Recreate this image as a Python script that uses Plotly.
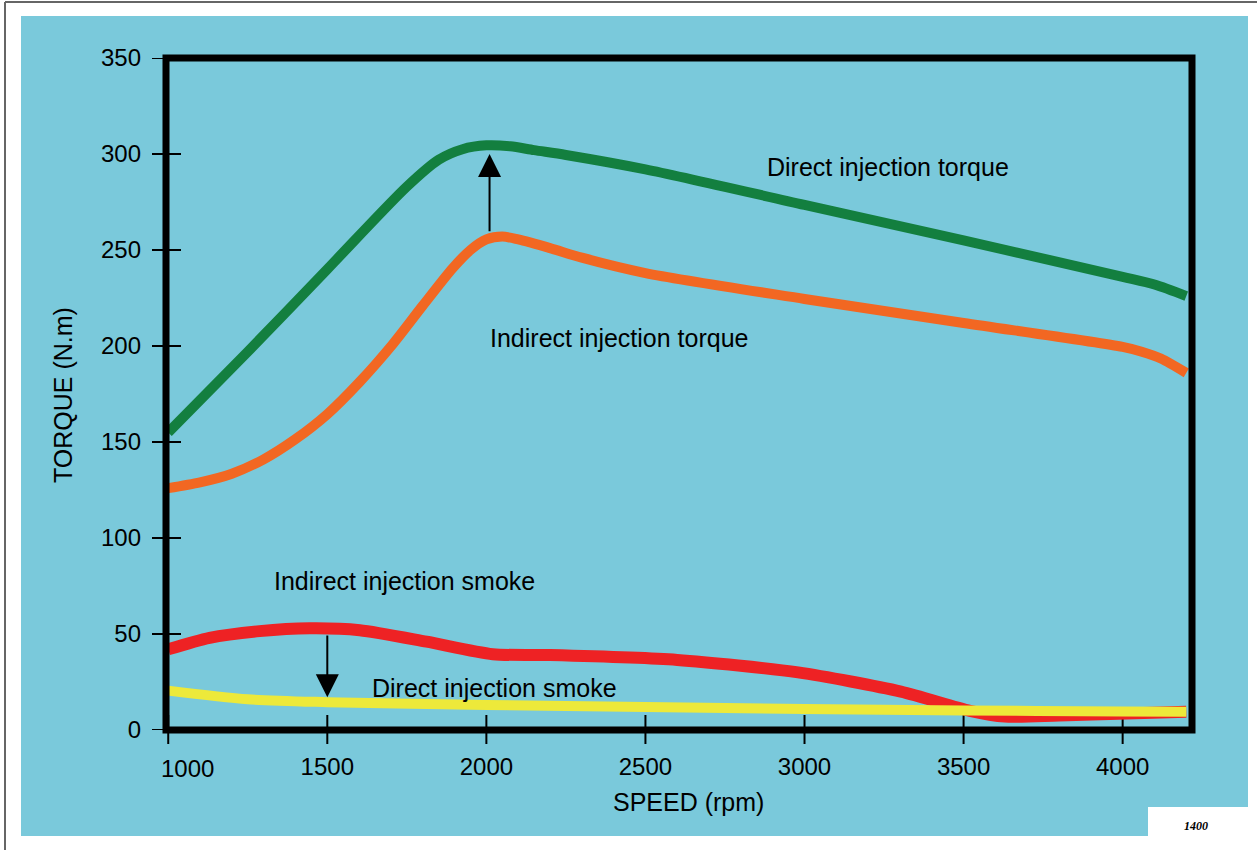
import plotly.graph_objects as go

# ---------------- data ----------------
direct_torque_x = [1000, 1250, 1500, 1750, 1850, 1925, 2000, 2075, 2150, 2250, 2500, 3000, 3500, 4000, 4100, 4200]
direct_torque_y = [155, 197, 240, 283, 297, 302.5, 304.5, 304, 302, 299.5, 292, 273.5, 255, 236, 232, 226]

indirect_torque_x = [1000, 1100, 1200, 1300, 1400, 1500, 1600, 1706, 1800, 1894, 1950, 2000, 2050, 2100, 2200, 2300, 2500, 3000, 3500, 4000, 4060, 4120, 4200]
indirect_torque_y = [126, 129, 133.5, 141, 151.5, 164.5, 181, 201, 221, 240.5, 250, 255.5, 257, 255.5, 251, 246, 238, 224.5, 212, 199.5, 197, 193.5, 186]

indirect_smoke_x = [1000, 1130, 1287, 1445, 1602, 1812, 2020, 2200, 2600, 2980, 3303, 3520, 3630, 3800, 4200]
indirect_smoke_y = [42, 48, 51.5, 53, 52, 46, 39.5, 39, 36.5, 30, 20, 10, 7, 7.5, 9.5]

direct_smoke_x = [1000, 1250, 1500, 2000, 2500, 3000, 3500, 4000, 4200]
direct_smoke_y = [20.5, 16, 14.5, 13, 12, 11, 10.2, 9.7, 9.5]

x_tickvals = [1000, 1500, 2000, 2500, 3000, 3500, 4000]
x_ticktext = ["", "1500", "2000", "2500", "3000", "3500", "4000"]
y_tickvals = [0, 50, 100, 150, 200, 250, 300, 350]

labels = [
    ("Direct injection torque", 2875, 293),
    ("Indirect injection torque", 2004, 204),
    ("Indirect injection smoke", 1325, 77.5),
    ("Direct injection smoke", 1633, 22),
]

# ---------------- layout helpers (pixel -> paper) ----------------
W, H = 1257, 850
ML, MR, MT, MB = 166, 65, 58, 120
PW, PH = W - ML - MR, H - MT - MB

def px(xp):
    return (xp - ML) / PW

def py(yp):
    return (H - MB - yp) / PH

FONT = "Liberation Sans, Arial, sans-serif"
TICK_IN, TICK_OUT = 15, 14  # tick marks cross the frame

fig = go.Figure()
fig.add_trace(go.Scatter(x=direct_torque_x, y=direct_torque_y, mode="lines",
                         line=dict(color="#137F3F", width=10, shape="spline", smoothing=0.8)))
fig.add_trace(go.Scatter(x=indirect_torque_x, y=indirect_torque_y, mode="lines",
                         line=dict(color="#F26722", width=10, shape="spline", smoothing=0.8)))
fig.add_trace(go.Scatter(x=indirect_smoke_x, y=indirect_smoke_y, mode="lines",
                         line=dict(color="#EE2224", width=12, shape="spline", smoothing=0.7)))
fig.add_trace(go.Scatter(x=direct_smoke_x, y=direct_smoke_y, mode="lines",
                         line=dict(color="#EDE93A", width=10, shape="spline", smoothing=0.8)))

xr = [993, 4218]
yr = [0, 350]

fig.update_layout(
    width=W, height=H,
    margin=dict(l=ML, r=MR, t=MT, b=MB),
    paper_bgcolor="white",
    plot_bgcolor="rgba(0,0,0,0)",
    showlegend=False,
    font=dict(family=FONT, color="black", size=24),
    xaxis=dict(range=xr, tickvals=x_tickvals, ticktext=x_ticktext, ticks="",
               showgrid=False, zeroline=False, showline=False,
               ticklabelstandoff=6 + TICK_OUT, tickfont=dict(size=24, family=FONT)),
    yaxis=dict(range=yr, tickvals=y_tickvals, ticks="",
               showgrid=False, zeroline=False, showline=False,
               ticklabelstandoff=10 + TICK_OUT, tickfont=dict(size=24, family=FONT)),
)

shapes = [
    # page border
    dict(type="line", xref="paper", yref="paper", x0=px(5), x1=px(1257), y0=py(2), y1=py(2),
         line=dict(color="#666666", width=2), layer="below"),
    dict(type="line", xref="paper", yref="paper", x0=px(5), x1=px(5), y0=py(2), y1=py(850),
         line=dict(color="#666666", width=2), layer="below"),
    # blue panel
    dict(type="rect", xref="paper", yref="paper", x0=px(21), x1=px(1248), y0=py(836), y1=py(16),
         fillcolor="#7AC9DB", line=dict(width=0), layer="below"),
    # white cutout
    dict(type="rect", xref="paper", yref="paper", x0=px(1148), x1=px(1249), y0=py(837), y1=py(807),
         fillcolor="white", line=dict(width=0), layer="below"),
]
# tick marks crossing the frame, placed at the tick values (beneath the curves)
for v in x_tickvals:
    shapes.append(dict(type="line", xref="x", yref="paper", x0=v, x1=v,
                       y0=-TICK_OUT / PH, y1=TICK_IN / PH,
                       line=dict(color="black", width=2), layer="below"))
for v in y_tickvals:
    shapes.append(dict(type="line", xref="paper", yref="y", y0=v, y1=v,
                       x0=-TICK_OUT / PW, x1=TICK_IN / PW,
                       line=dict(color="black", width=2), layer="below"))
# frame
shapes.append(dict(type="rect", xref="paper", yref="paper", x0=0, x1=1, y0=0, y1=1,
                   line=dict(color="black", width=7), layer="above"))
fig.update_layout(shapes=shapes)

annotations = []
for text, x, y in labels:
    annotations.append(dict(text=text, x=x, y=y, xref="x", yref="y", showarrow=False,
                            xanchor="left", yanchor="middle", font=dict(size=25, family=FONT)))
# arrows
annotations.append(dict(text="", x=2010, y=300, ax=2010, ay=259, xref="x", yref="y",
                        axref="x", ayref="y", showarrow=True, arrowhead=2, arrowsize=2.3,
                        arrowwidth=2, arrowcolor="black", standoff=0, startstandoff=0))
annotations.append(dict(text="", x=1500, y=17, ax=1500, ay=50, xref="x", yref="y",
                        axref="x", ayref="y", showarrow=True, arrowhead=2, arrowsize=2.3,
                        arrowwidth=2, arrowcolor="black", standoff=0, startstandoff=0))
# axis titles
annotations.append(dict(text="TORQUE (N.m)", x=px(63), y=py(395), xref="paper", yref="paper",
                        showarrow=False, textangle=-90, xanchor="center", yanchor="middle",
                        font=dict(size=25, family=FONT)))
annotations.append(dict(text="SPEED (rpm)", x=px(688), y=py(802), xref="paper", yref="paper",
                        showarrow=False, xanchor="center", yanchor="middle",
                        font=dict(size=25, family=FONT)))
# first x tick label, offset from the corner
annotations.append(dict(text="1000", x=1000, y=py(768), xref="x", yref="paper", xshift=19,
                        showarrow=False, xanchor="center", yanchor="middle",
                        font=dict(size=24, family=FONT)))
# figure number
annotations.append(dict(text="<b><i>1400</i></b>", x=px(1196), y=py(826), xref="paper", yref="paper",
                        showarrow=False, xanchor="center", yanchor="middle",
                        font=dict(size=12, family="Liberation Serif, Times New Roman, serif")))
fig.update_layout(annotations=annotations)

fig.write_html("out.html", config={"displayModeBar": False},
               post_script="document.body.style.margin='0px';")
